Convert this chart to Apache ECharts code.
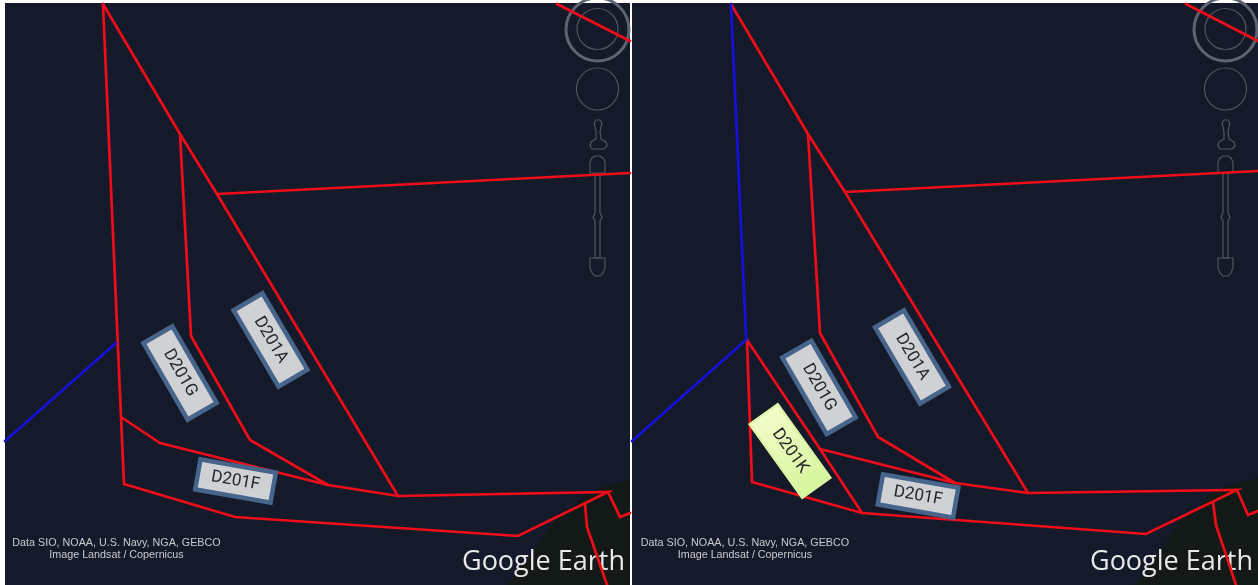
<!DOCTYPE html>
<html><head><meta charset="utf-8">
<style>html,body{margin:0;padding:0;background:#fff}#c{width:1258px;height:585px}</style>
<script src="https://cdn.jsdelivr.net/npm/echarts@6/dist/echarts.min.js"></script>
</head><body><div id="c"></div>
<script>
// panel rectangles: [x0,y0,x1,y1]
const panels = [[5,3,630,585],[632,3,1258,585]];
const landAreas = [
  [[630,480],[606,486],[583,495],[572,508],[553,522],[530,556],[507,585],[630,585]],
  [[1258,478],[1234,484],[1211,493],[1200,506],[1181,520],[1158,556],[1135,585],[1258,585]]
];
const redLines = [
  // left panel
  [[103,4],[115,280],[121,417],[124,484],[235,517],[518,536],[608,492],[398,496],[328,485],[160,443],[121,417]],
  [[103,4],[180,134],[217,194],[398,496]],
  [[180,134],[191,336],[250,440],[328,485]],
  [[217,194],[630,173]],
  [[557,4],[630,41]],
  [[608,492],[620,517],[630,513]],
  [[585,504],[587,527],[607,585]],
  // right panel
  [[747,340],[752,482],[862,513],[1146,534],[1237,490],[1028,493],[955,483],[820,449]],
  [[747,340],[820,449],[862,513]],
  [[731,4],[808,134],[845,192],[1028,493]],
  [[808,134],[820,333],[878,437],[955,483]],
  [[845,192],[1258,171]],
  [[1186,4],[1258,41]],
  [[1237,490],[1248,515],[1258,511]],
  [[1213,502],[1216,525],[1236,585]]
];
const blueLines = [
  [[5,441],[116,343]],
  [[731,4],[746,335],[746,340],[632,441]]
];
// HUD outline pieces (offset is applied per panel below)
const hudOffsets = [0,628];
const hudCircles = [[597.5,29.5,31.5,3],[597.5,29,20.5,1.2],[597.5,89,21,1.2]];
const hudPaths = [
  [[590,173],[590,162],[592,158],[595,156],[600,156],[603,158],[605,162],[605,173],[590,173]],
  [[595,173],[595,213],[593,217],[595,221],[595,258],[600,258],[600,221],[602,217],[600,213],[600,173]],
  [[590,258],[605,258],[605,268],[603,273],[600,276],[595,276],[592,273],[590,268],[590,258]],
  [[596,132],[595,127],[594,123],[596,120],[600,120],[602,123],[601,127],[600,132],[601,139],[606,142],[607,146],[604,149],[592,149],[590,146],[591,142],[596,139],[596,132]]
];
// label boxes: text, centre x, centre y, long side, short side, rotation in degrees
const boxes = [
  ['D201G',180,373,93,38,60],
  ['D201A',270.5,340,93,38,59.5],
  ['D201F',235.5,481,81,35,10],
  ['D201G',819,387.5,93,38,60],
  ['D201A',912,357,93,38,59.5],
  ['D201F',918,496,81,35,10],
  ['D201K',790,451,93,37,54.5]
];
const attributionLines = ['Data SIO, NOAA, U.S. Navy, NGA, GEBCO','Image Landsat / Copernicus'];
const attributionCentres = [116.5,745];
const logoText = 'Google Earth';
const logoLefts = [462,1090];

const DARK = '#151a2b';
const hudLines = [];
hudOffsets.forEach(o => hudPaths.forEach(p => hudLines.push(p.map(q => [q[0]+o, q[1]]))));
const rings = [];
hudOffsets.forEach(o => hudCircles.forEach(c => rings.push([c[0]+o, c[1], c[2], c[3]])));

function lineSeries(pts, color, width, z){
  return {type:'line', data:pts, showSymbol:false, symbol:'none', silent:true, z,
    lineStyle:{color, width, join:'miter', cap:'round', opacity:1}, animation:false};
}
const series = [
  {type:'custom', coordinateSystem:'cartesian2d', z:1, silent:true, animation:false, data:panels,
   encode:{x:[0,2],y:[1,3]},
   renderItem(p,api){
     const a=api.coord([api.value(0),api.value(1)]), b=api.coord([api.value(2),api.value(3)]);
     return {type:'rect',shape:{x:a[0],y:a[1],width:b[0]-a[0],height:b[1]-a[1]},style:{fill:DARK}};
   }},
  ...landAreas.map(l=>({type:'custom', z:2, silent:true, animation:false, data:l, encode:{x:0,y:1},
     renderItem(p,api){
       if(p.dataIndex!==0) return null;
       return {type:'polygon',shape:{points:l.map(q=>api.coord(q))},style:{fill:'#131916'}};
     }})),
  {type:'custom', z:3, silent:true, animation:false, data:rings, encode:{x:0,y:1},
   renderItem(p,api){
     const c=api.coord([api.value(0),api.value(1)]), w=api.value(3);
     return {type:'circle',shape:{cx:c[0],cy:c[1],r:api.value(2)},
       style:{fill:'none',stroke:w>2?'#5f6472':'#50555f',lineWidth:w}};
   }},
  ...hudLines.map(l=>lineSeries(l,'#50555f',1.2,3)),
  {type:'custom', z:4, silent:true, animation:false,
   data:logoLefts.map(x=>[x,562]), encode:{x:0,y:1},
   renderItem(p,api){
     const c=api.coord([api.value(0),api.value(1)]);
     return {type:'text',x:c[0],y:c[1],style:{text:logoText,font:'400 27px "Open Sans"',fill:'#e8e9ea',
       align:'left',verticalAlign:'middle'}};
   }},
  ...redLines.map(l=>lineSeries(l,'#ee0d18',2.7,5)),
  ...blueLines.map(l=>lineSeries(l,'#1710da',2.7,5)),
  {type:'custom', z:6, silent:true, animation:false,
   data:attributionCentres.flatMap(x=>attributionLines.map((t,i)=>[x,543.5+i*12,t])),
   encode:{x:0,y:1},
   renderItem(p,api){
     const c=api.coord([api.value(0),api.value(1)]);
     return {type:'text',x:c[0],y:c[1],style:{text:api.value(2),font:'10.75px "Liberation Sans"',fill:'#c9cace',
       align:'center',verticalAlign:'middle'}};
   }},
  {type:'custom', z:7, silent:true, animation:false, data:boxes, encode:{x:1,y:2},
   dimensions:['t','x','y','w','h','r'],
   renderItem(p,api){
     const b=boxes[p.dataIndex], c=api.coord([b[1],b[2]]), w=b[3], h=b[4];
     const k=b[0]==='D201K';
     const sw=k?2:4.5;
     return {type:'group',x:c[0],y:c[1],rotation:-b[5]*Math.PI/180,children:[
       {type:'rect',shape:{x:-w/2+sw/2,y:-h/2+sw/2,width:w-sw,height:h-sw},
        style:{fill:k?{type:'linear',x:0,y:0,x2:1,y2:0,colorStops:[{offset:0,color:'#f2fdc9'},{offset:1,color:'#d6f59c'}]}:'#cfd1d5',
               stroke:k?'#d9f2a4':'#47648a',lineWidth:sw}},
       {type:'text',x:0,y:0,style:{text:b[0],font:'400 17px Roboto',fill:'#24262b',align:'center',verticalAlign:'middle'}}
     ]};
   }}
];
const chart = echarts.init(document.getElementById('c'),null,{renderer:'canvas'});
chart.setOption({
  animation:false,
  backgroundColor:'#ffffff',
  grid:{left:0,right:0,top:0,bottom:0},
  xAxis:{type:'value',min:0,max:1258,show:false},
  yAxis:{type:'value',min:0,max:585,inverse:true,show:false},
  series
});
</script></body></html>
